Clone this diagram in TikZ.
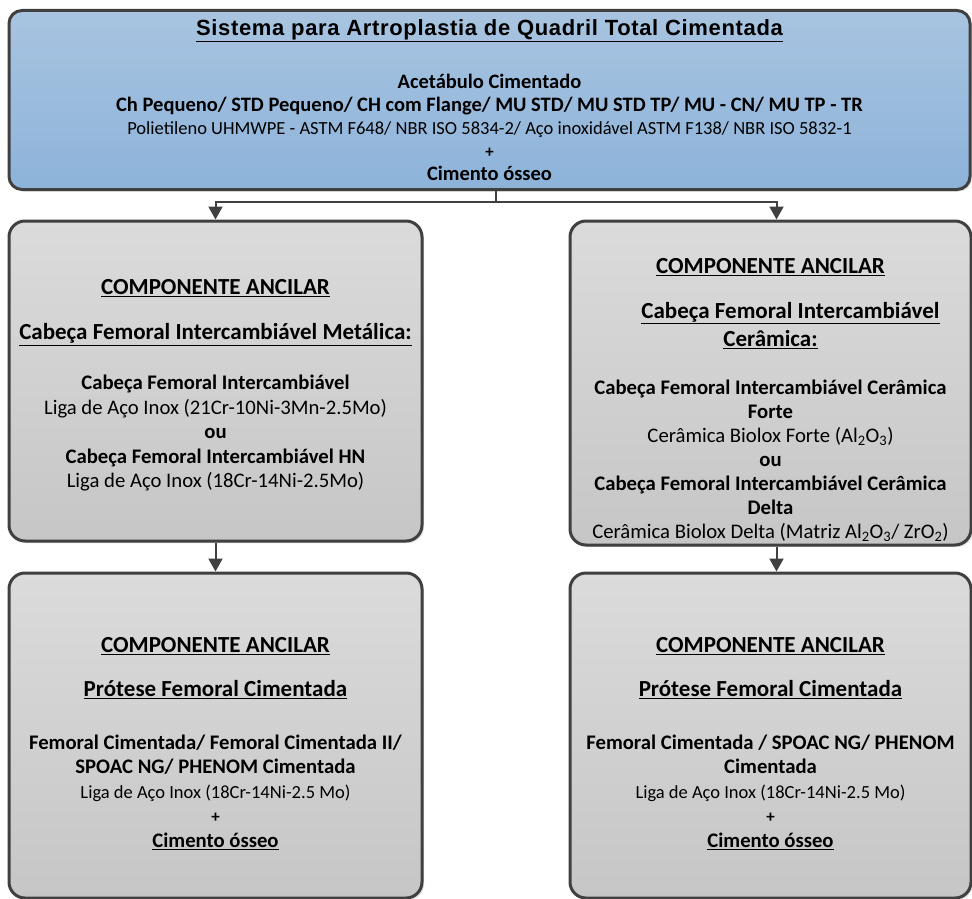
\documentclass[tikz,border=0pt]{standalone}
\usepackage{fontspec}
\setmainfont{Carlito}
\newfontfamily\titlefont[LetterSpace=3]{Liberation Sans}
\usetikzlibrary{positioning,arrows.meta,shadows}

\definecolor{boxline}{HTML}{404040}
\definecolor{bluetop}{HTML}{A8C4E0}
\definecolor{bluebot}{HTML}{8DB3DA}
\definecolor{graytop}{HTML}{DBDBDB}
\definecolor{graybot}{HTML}{C6C6C6}

\newcommand{\hd}[1]{{\fontsize{23}{24.5}\selectfont\underline{\textbf{#1}}}}
\newcommand{\mattxt}[1]{{\fontsize{18.5}{22}\selectfont #1}}
\newcommand{\plus}{{\fontsize{17}{18}\selectfont\textbf{+}}}

\tikzset{
  mainbox/.style={draw=boxline, line width=3pt, rounded corners=13pt, align=center,
    top color=bluetop, bottom color=bluebot, inner sep=0pt,
    font=\fontsize{20.5}{23}\selectfont,
    drop shadow={opacity=0.25, shadow xshift=2pt, shadow yshift=-2pt}},
  ancbox/.style={mainbox, top color=graytop, bottom color=graybot,
    rounded corners=16pt, font=\fontsize{20.7}{24.5}\selectfont},
  link/.style={draw=boxline, line width=2pt},
  arr/.style={link, -{Triangle[length=13pt, width=14pt]}}
}

\begin{document}
\begin{tikzpicture}[x=1pt, y=-1pt]
  \useasboundingbox (0,0) rectangle (972,899);

  % sistema principal
  \node[mainbox, minimum width=961pt, minimum height=179pt] (sistema) at (489.5,100) {%
    {\titlefont\bfseries\fontsize{22}{24}\selectfont\underline{Sistema para Artroplastia de Quadril Total Cimentada}}\\[30pt]
    \textbf{Acetábulo Cimentado}\\
    \textbf{Ch Pequeno/ STD Pequeno/ CH com Flange/ MU STD/ MU STD TP/ MU - CN/ MU TP - TR}\\
    \mattxt{Polietileno UHMWPE - ASTM F648/ NBR ISO 5834-2/ Aço inoxidável ASTM F138/ NBR ISO 5832-1}\\
    \plus\\
    \textbf{Cimento ósseo}};

  % cabecas femorais
  \node[ancbox, minimum width=413pt, minimum height=320pt] (metalica) at (215.5,381) {%
    {}\\
    \hd{COMPONENTE ANCILAR}\\[20pt]
    \hd{Cabeça Femoral Intercambiável Metálica:}\\[26pt]
    \textbf{Cabeça Femoral Intercambiável}\\
    Liga de Aço Inox (21Cr-10Ni-3Mn-2.5Mo)\\
    \textbf{ou}\\
    \textbf{Cabeça Femoral Intercambiável HN}\\
    Liga de Aço Inox (18Cr-14Ni-2.5Mo)};
  \node[ancbox, minimum width=401pt, minimum height=324pt, font=\fontsize{20.7}{24}\selectfont] (ceramica) at (770.5,383) {%
    {}\\[25pt]
    \hd{COMPONENTE ANCILAR}\\[21pt]
    \hspace*{40pt}\hd{Cabeça Femoral Intercambiável}\\[4pt]
    \hd{Cerâmica:}\\[24pt]
    \textbf{Cabeça Femoral Intercambiável Cerâmica}\\
    \textbf{Forte}\\
    Cerâmica Biolox Forte (Al\textsubscript{2}O\textsubscript{3})\\
    \textbf{ou}\\
    \textbf{Cabeça Femoral Intercambiável Cerâmica}\\
    \textbf{Delta}\\
    Cerâmica Biolox Delta (Matriz Al\textsubscript{2}O\textsubscript{3}/ ZrO\textsubscript{2})};

  % proteses femorais
  \node[ancbox, minimum width=413pt, minimum height=325pt] (femesq) at (215.5,735.5) {%
    {}\\[6pt]
    \hd{COMPONENTE ANCILAR}\\[20pt]
    \hd{Prótese Femoral Cimentada}\\[28pt]
    \textbf{Femoral Cimentada/ Femoral Cimentada II/}\\
    \textbf{SPOAC NG/ PHENOM Cimentada}\\
    \mattxt{Liga de Aço Inox (18Cr-14Ni-2.5 Mo)}\\
    \plus\\
    \underline{\textbf{Cimento ósseo}}};
  \node[ancbox, minimum width=401pt, minimum height=325pt] (femdir) at (770.5,735.5) {%
    {}\\[6pt]
    \hd{COMPONENTE ANCILAR}\\[20pt]
    \hd{Prótese Femoral Cimentada}\\[28pt]
    \textbf{Femoral Cimentada / SPOAC NG/ PHENOM}\\
    \textbf{Cimentada}\\
    \mattxt{Liga de Aço Inox (18Cr-14Ni-2.5 Mo)}\\
    \plus\\
    \underline{\textbf{Cimento ósseo}}};

  % ligacoes
  \draw[link] ([xshift=6pt]sistema.south) -- ++(0,11) coordinate (split);
  \draw[arr] (split) -| (metalica.north);
  \draw[arr] (split) -| ([xshift=6pt]ceramica.north);
  \draw[arr] (metalica.south) -- (femesq.north);
  \draw[arr] ([xshift=6pt]ceramica.south) -- ([xshift=6pt]femdir.north);
\end{tikzpicture}
\end{document}
